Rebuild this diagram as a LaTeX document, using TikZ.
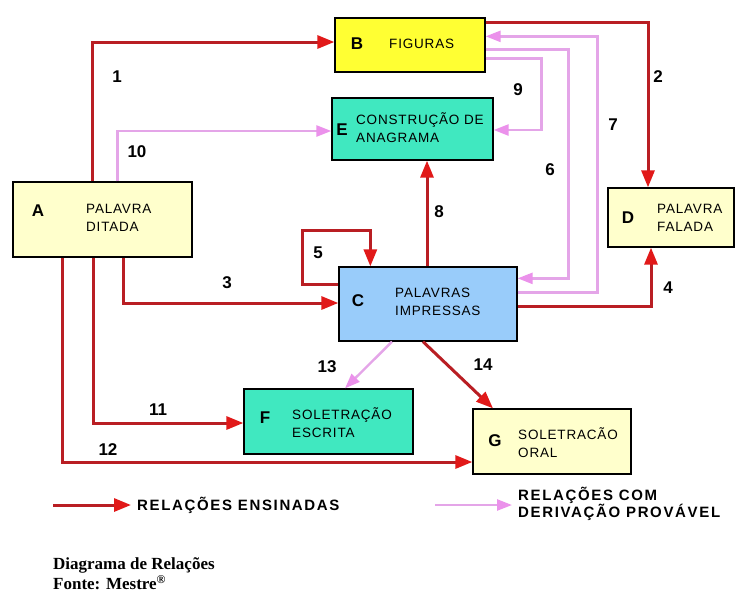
\documentclass[tikz,border=0pt]{standalone}
\usepackage{fontspec}
\setmainfont{Liberation Sans}
\newfontfamily\boxfont[LetterSpace=6]{Liberation Sans}
\newfontfamily\legfont[LetterSpace=11]{Liberation Sans}
\newfontfamily\capfont{Liberation Serif}
\usetikzlibrary{arrows.meta}
\definecolor{redline}{RGB}{185,30,35}
\definecolor{redhead}{RGB}{225,25,25}
\definecolor{pinkline}{RGB}{228,165,232}
\definecolor{pinkhead}{RGB}{235,145,235}
\definecolor{lightyel}{RGB}{255,255,204}
\definecolor{brightyel}{RGB}{255,255,51}
\definecolor{turq}{RGB}{64,232,192}
\definecolor{lblue}{RGB}{153,204,250}
\tikzset{
  box/.style={draw=black, line width=1.3pt, rectangle, inner sep=0pt},
  redarr/.style={draw=redline, line width=3pt, -{Triangle[length=17pt,width=13pt,color=redhead]}},
  pinkarr/.style={draw=pinkline, line width=2.4pt, -{Triangle[length=15pt,width=11pt,color=pinkhead]}},
  numlab/.style={font=\bfseries\fontsize{17}{17}\selectfont, inner sep=0pt},
  boxletter/.style={font=\bfseries\fontsize{17}{17}\selectfont, inner sep=0pt},
  boxtext/.style={font=\boxfont\fontsize{13.5}{18}\selectfont, align=left, anchor=west, inner sep=0pt},
  legtext/.style={font=\legfont\bfseries\fontsize{15}{17}\selectfont, align=left, anchor=west, inner sep=0pt}
}
\begin{document}
\begin{tikzpicture}[x=1pt,y=-1pt]
\useasboundingbox[fill=white] (0,0) rectangle (736,598);

% boxes
\node[box, fill=lightyel, minimum width=179pt, minimum height=75pt] (A) at (102.5,219.5) {};
\node[box, fill=brightyel, minimum width=150pt, minimum height=54pt] (B) at (410,45) {};
\node[box, fill=turq, minimum width=161pt, minimum height=62pt] (E) at (412.5,129) {};
\node[box, fill=lightyel, minimum width=126pt, minimum height=59pt] (D) at (671,217.5) {};
\node[box, fill=lblue, minimum width=178pt, minimum height=74pt] (C) at (428,304) {};
\node[box, fill=turq, minimum width=169pt, minimum height=65pt] (F) at (328.5,421.5) {};
\node[box, fill=lightyel, minimum width=158pt, minimum height=65pt] (G) at (552,441.5) {};

% box texts
\node[boxletter] (lA) at (38,211) {A};
\node[boxtext] (tA) at (86,218) {PALAVRA\\DITADA};
\node[boxletter] (lB) at (357,44) {B};
\node[boxtext] (tB) at (389,44) {FIGURAS};
\node[boxletter] (lE) at (342,130) {E};
\node[boxtext] (tE) at (356,128) {CONSTRUÇÃO DE\\ANAGRAMA};
\node[boxletter] (lD) at (628,218) {D};
\node[boxtext] (tD) at (657,217.5) {PALAVRA\\FALADA};
\node[boxletter] (lC) at (358,301) {C};
\node[boxtext] (tC) at (395,301.5) {PALAVRAS\\IMPRESSAS};
\node[boxletter] (lF) at (265,418) {F};
\node[boxtext] (tF) at (292,422.5) {SOLETRAÇÃO\\ESCRITA};
\node[boxletter] (lG) at (495,441) {G};
\node[boxtext] (tG) at (518,443) {SOLETRACÃO\\ORAL};

% connectors
\draw[redarr] ([xshift=80pt]A.north west) |- ([yshift=3pt]B.west);
\draw[pinkarr] ([xshift=105pt]A.north west) |- ([yshift=-2pt]E.west);
\draw[redarr] ([yshift=-5pt]B.north east) -| ([xshift=-23pt]D.north);
\draw[pinkarr] ([yshift=-41pt]B.north east) -- ++(56,0) |- ([yshift=-1pt]E.east);
\draw[pinkarr] ([yshift=-32pt]B.north east) -- ++(83,0) |- ([yshift=-12pt]C.north east);
\draw[pinkarr] ([yshift=-26pt]C.north east) -- ++(80,0) |- ([yshift=-19pt]B.north east);
\draw[redarr] ([xshift=-1pt]C.north) -- ([xshift=-1pt]C.north |- E.south);
\draw[redarr] ([yshift=-18pt]C.north west) -- ++(-36,0) -- ++(0,-54) -| ([xshift=32pt]C.north west);
\draw[redarr] ([xshift=111pt]A.south west) |- ([yshift=1pt]C.west);
\draw[redarr] ([xshift=81pt]A.south west) |- ([yshift=-1.5pt]F.west);
\draw[redarr] ([xshift=50pt]A.south west) |- ([yshift=-20.5pt]G.west);
\draw[redarr] ([yshift=-2pt]C.east) -| ([xshift=-20pt]D.south);
\draw[pinkarr] ([xshift=-36pt]C.south) -- ([xshift=16.5pt]F.north);
\draw[redarr] ([xshift=-5pt]C.south) -- ([xshift=-59pt]G.north);

% number labels
\node[numlab] (n1) at (117,77) {1};
\node[numlab] (n10) at (137,152) {10};
\node[numlab] (n2) at (658,77) {2};
\node[numlab] (n9) at (518,90) {9};
\node[numlab] (n7) at (613,125) {7};
\node[numlab] (n6) at (550,170) {6};
\node[numlab] (n8) at (439,212) {8};
\node[numlab] (n5) at (318,253) {5};
\node[numlab] (n3) at (227,283) {3};
\node[numlab] (n4) at (668,288) {4};
\node[numlab] (n13) at (327,367) {13};
\node[numlab] (n14) at (483,365) {14};
\node[numlab] (n11) at (158,410) {11};
\node[numlab] (n12) at (108,450) {12};

% legend
\coordinate (l1s) at (53,505);
\coordinate (l1e) at (131,505);
\draw[redarr] (l1s) -- (l1e);
\node[legtext] (leg1) at (137,505) {RELAÇÕES ENSINADAS};
\coordinate (l2s) at (435,505);
\coordinate (l2e) at (512,505);
\draw[pinkarr] (l2s) -- (l2e);
\node[legtext] (leg2) at (518,503.5) {RELAÇÕES COM\\DERIVAÇÃO PROVÁVEL};

% caption
\node[font=\capfont\bfseries\fontsize{17}{20}\selectfont, align=left, anchor=west, inner sep=0pt] (cap) at (53,574) {Diagrama de Relações\\Fonte: Mestre\textsuperscript{\textregistered}};
\end{tikzpicture}
\end{document}
